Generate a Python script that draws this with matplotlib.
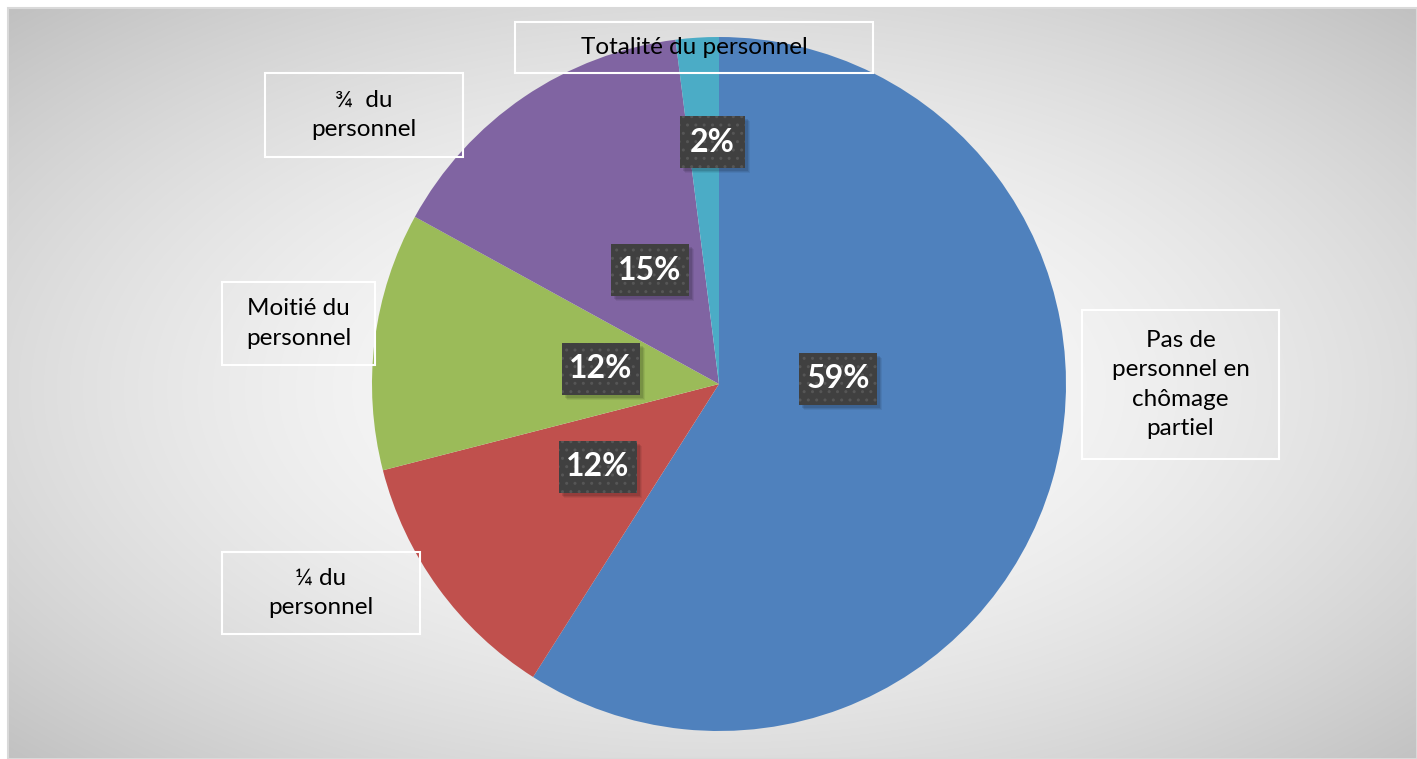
import numpy as np
import matplotlib
matplotlib.use("Agg")
import matplotlib.pyplot as plt
from matplotlib.patches import Rectangle

# ---- data ----
categories = ["Pas de\npersonnel en\nchômage\npartiel", "¼ du\npersonnel",
              "Moitié du\npersonnel", "¾  du\npersonnel", "Totalité du personnel"]
values = [59, 12, 12, 15, 2]
pct_labels = ["59%", "12%", "12%", "15%", "2%"]
colors = ["#4F81BD", "#C0504D", "#9BBB59", "#8064A2", "#4BACC6"]

W, H = 1417, 759
plt.rcParams['font.family'] = ['Lato', 'DejaVu Sans']
plt.rcParams['hatch.linewidth'] = 1.0

fig = plt.figure(figsize=(W / 100, H / 100), dpi=100)
fig.patch.set_facecolor("white")
ax = fig.add_axes([0, 0, 1, 1])

def Y(y):
    return H - y

# background radial gradient
xx, yy = np.meshgrid(np.arange(W), np.arange(H))
r = np.sqrt(((xx - 715) / (W / 2)) ** 2 + ((yy - 385) / (H / 2)) ** 2) / np.sqrt(2)
v = np.clip(253 - 60 * r ** 1.7, 0, 255) / 255.0
img = np.dstack([v, v, v])
ax.imshow(img, extent=(8, W, 0, Y(8)), origin="upper", zorder=0, aspect="auto")
ax.add_patch(Rectangle((8, 0), W - 8, Y(8), fill=False, edgecolor="#d9d9d9", lw=1.5, zorder=1))

# pie
cx, cy, R = 719, 384, 347
ax.pie(values, colors=colors, startangle=90, counterclock=False,
       center=(cx, Y(cy)), radius=R, frame=True,
       wedgeprops=dict(linewidth=0, zorder=2))

# category label boxes (pixel boxes: x0, y0, x1, y1)
cat_boxes = [(1082, 310, 1279, 459), (222, 552, 420, 634), (222, 282, 375, 365),
             (265, 73, 463, 157), (515, 22, 873, 73)]
for lab, (x0, y0, x1, y1) in zip(categories, cat_boxes):
    ax.add_patch(Rectangle((x0, Y(y1)), x1 - x0, y1 - y0, fill=False,
                           edgecolor="white", lw=1.5, zorder=5))
    ax.text((x0 + x1) / 2, Y((y0 + y1) / 2), lab, ha="center", va="center",
            fontsize=17.5, color="#000000", linespacing=1.48, zorder=6)

# percentage label boxes (centers)
pct_centers = [(838, 379), (598, 467), (601, 369), (650, 270), (712, 142)]
pct_widths = [78, 78, 78, 78, 65]
for lab, (px, py), bw in zip(pct_labels, pct_centers, pct_widths):
    bh = 52
    for k, a in ((5, 0.06), (4, 0.08), (3, 0.1)):
        ax.add_patch(Rectangle((px - bw / 2 + k, Y(py + bh / 2) - k), bw, bh,
                               facecolor="black", alpha=a, lw=0, zorder=6))
    ax.add_patch(Rectangle((px - bw / 2, Y(py + bh / 2)), bw, bh,
                           facecolor="#404040", edgecolor="#565656", hatch="..",
                           lw=0, zorder=7))
    ax.text(px, Y(py), lab, ha="center", va="center", fontsize=23,
            fontweight="bold", color="white", zorder=8)

ax.set_xlim(0, W)
ax.set_ylim(0, H)
ax.set_aspect("auto")
ax.axis("off")
fig.savefig("out.png", dpi=100, facecolor="white")
